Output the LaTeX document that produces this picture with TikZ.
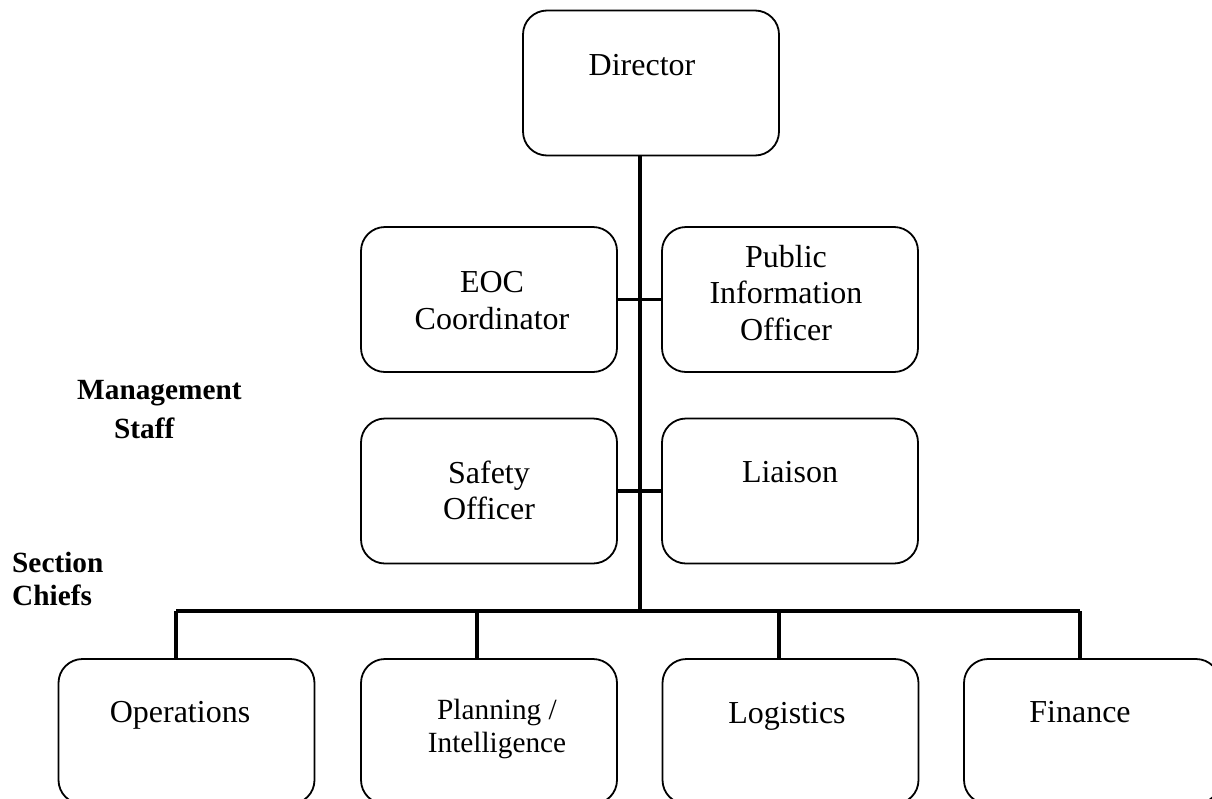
\documentclass[tikz,border=0pt]{standalone}
\usepackage{fontspec}
\setmainfont{Liberation Serif}
\usetikzlibrary{positioning}
\definecolor{orgInk}{HTML}{000000}
\definecolor{orgPaper}{HTML}{FFFFFF}
\begin{document}
\begin{tikzpicture}[x=1pt,y=-1pt,line cap=butt,line join=round]
\useasboundingbox (0,0) rectangle (1212,798);
\path[fill=orgPaper] (0,0) rectangle (1212,798);
\clip (0,0) rectangle (1212,798);
\tikzset{wire/.style={draw=orgInk,line width=3.4pt},box/.style={draw=orgInk,line width=1.8pt,rounded corners=24pt,minimum width=256pt,minimum height=145pt,inner sep=0pt},txt/.style={text=orgInk,align=center,font=\fontsize{32}{36.5}\selectfont},onetxt/.style={txt,anchor=base,inner sep=0pt},smalltxt/.style={text=orgInk,align=center,font=\fontsize{29.3}{33}\selectfont},tag/.style={anchor=west,text=orgInk,inner sep=0pt,font=\fontsize{29.3}{33}\selectfont\bfseries}}
% boxes
\node[box] (dir) at (651,83) {};
\node[box] (eoc) at (489,299.5) {}; \node[box] (pio) at (790,299.5) {};
\node[box] (safe) at (489,491) {}; \node[box] (liai) at (790,491) {};
\node[box] (ops) at (186.5,731.5) {}; \node[box] (plan) at (489,731.5) {};
\node[box] (logi) at (790.5,731.5) {}; \node[box] (fin) at (1092,731.5) {};
% box texts
\node[onetxt] (dirT) at (642,75) {Director};
\node[txt] (eocT) at (492,300.5) {EOC\\Coordinator};
\node[txt] (pioT) at (786,293) {Public\\Information\\Officer};
\node[txt] (safeT) at (489,490.5) {Safety\\Officer};
\node[onetxt] (liaiT) at (790,482) {Liaison};
\node[onetxt] (opsT) at (180,722) {Operations};
\node[smalltxt] (planT) at (497,728.5) {Planning /\\Intelligence};
\node[onetxt] (logiT) at (787,723) {Logistics};
\node[onetxt] (finT) at (1080,722) {Finance};
% side labels
\node[tag] (mgmtA) at (77,393) {Management}; \node[tag] (mgmtB) at (114,428) {Staff};
\node[tag] (secA) at (12,562) {Section}; \node[tag] (secB) at (12,595) {Chiefs};
% connectors
\coordinate (trunkTop) at (640,155); \coordinate (trunkEnd) at (640,611);
\draw[wire] (trunkTop) -- (trunkEnd);
\draw[wire] (eoc.east) -- (pio.west);
\draw[wire] (safe.east) -- (liai.west);
\coordinate (busL) at (176,611); \coordinate (busR) at (1080,611);
\draw[wire] (busL) -- (busR);
\foreach \n/\x in {ops/176,plan/477,logi/779,fin/1080}{
  \coordinate (drop\n) at (\x,611);
  \draw[wire] (drop\n) -- (drop\n |- \n.north);
}
\end{tikzpicture}
\end{document}
